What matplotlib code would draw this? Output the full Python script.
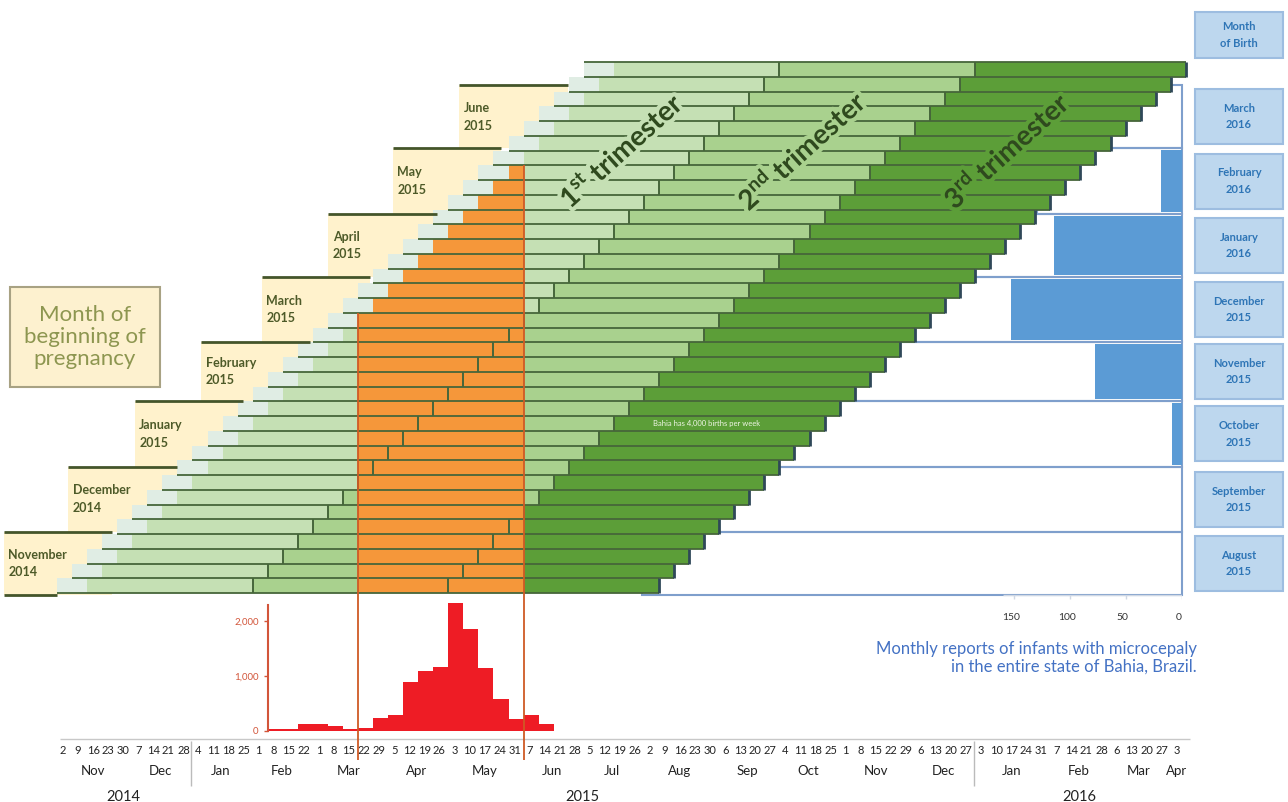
import numpy as np
import pandas as pd
import matplotlib
matplotlib.use('Agg')
import matplotlib.pyplot as plt
import matplotlib.patheffects as pe
from matplotlib.patches import Rectangle

plt.rcParams['font.family'] = ['Lato', 'DejaVu Sans']
plt.rcParams['mathtext.fontset'] = 'custom'
plt.rcParams['mathtext.rm'] = 'Lato'
plt.rcParams['mathtext.bf'] = 'Lato:bold'

# weekly timeline (Sundays)
week_dates = pd.date_range('2014-11-02', '2016-04-03', freq='7D')
origin = week_dates[0]

def wk(d):
    return (pd.Timestamp(d) - origin).days / 7.0

# one pregnancy cohort per week, weeks since LMP
cohort_start = np.arange(36)
preconception_wk = 2
trimester2_wk = 13
trimester3_wk = 26
term_wk = 40

# Zika epidemic window
epi_start = wk('2015-03-22')
epi_end = wk('2015-06-07')

# weekly reported cases (red histogram)
case_weeks = pd.date_range('2015-02-08', periods=19, freq='7D')
case_counts = [40, 40, 120, 130, 100, 40, 50, 240, 290, 890,
               1090, 1160, 2320, 1860, 1150, 590, 210, 285, 120]

# months of beginning of pregnancy
start_month_edges = pd.date_range('2014-11-01', '2015-07-01', freq='MS')
start_month_labels = ['November\n2014', 'December\n2014', 'January\n2015', 'February\n2015',
                      'March\n2015', 'April\n2015', 'May\n2015', 'June\n2015']

# monthly microcephaly reports by month of birth
birth_months = pd.date_range('2015-08-01', '2016-03-01', freq='MS')
birth_month_labels = ['August\n2015', 'September\n2015', 'October\n2015', 'November\n2015',
                      'December\n2015', 'January\n2016', 'February\n2016', 'March\n2016']
micro_counts = [0, 0, 9, 78, 153, 114, 19, 0]

# colours
c_pre = '#e0ede4'
c_t1 = '#c5e0b4'
c_t2 = '#a9d18e'
c_t3 = '#5c9e38'
c_orange = '#f5973a'
c_line = '#46663a'
c_cream = '#fff2cc'
c_blue = '#5b9bd5'

W, H = 1288, 802
fig = plt.figure(figsize=(W / 100, H / 100), dpi=100)
px_w, px_h = 15.05, 14.75
x0_px, y0_px = 57, 593
xlim = (-x0_px / px_w, (W - x0_px) / px_w)
ylim = ((y0_px - H) / px_h, y0_px / px_h)

ax = fig.add_axes([0, 0, 1, 1])
ax.set_xlim(*xlim)
ax.set_ylim(*ylim)
ax.axis('off')
ax.set_zorder(2)

# histogram axes
ax_h = fig.add_axes([0, (H - 731) / H, 1, 131 / H])
ax_h.set_xlim(*xlim)
ax_h.set_ylim(0, 131 / 55 * 1000)
ax_h.patch.set_visible(False)
ax_h.set_zorder(1)
ax_h.bar([wk(d) + 0.5 for d in case_weeks], case_counts, width=1, color='#ee1c25', lw=0)
for s in ['top', 'right', 'bottom']:
    ax_h.spines[s].set_visible(False)
ax_h.spines['left'].set_position(('data', wk(case_weeks[0])))
ax_h.spines['left'].set_color('#d2553a')
ax_h.spines['left'].set_linewidth(1.5)
ax_h.spines['left'].set_bounds(0, 2300)
ax_h.set_yticks([0, 1000, 2000])
ax_h.set_yticklabels(['0', '1,000', '2,000'])
ax_h.tick_params(axis='y', colors='#d2553a', labelsize=7, length=3, width=1)
ax_h.set_xticks([])

# cream month-of-beginning boxes
for k, lab in enumerate(start_month_labels):
    lo, hi = wk(start_month_edges[k]), wk(start_month_edges[k + 1])
    left = lo - 3.4
    ax.add_patch(Rectangle((left, lo), 7.2, hi - lo, facecolor=c_cream, lw=0, zorder=1))
    ax.hlines(hi, left, left + 7.2, color='#44552a', lw=2, zorder=3)
    ax.text(left + 0.3, (lo + hi) / 2, lab, fontsize=9, fontweight='bold', color='#4d5a28',
            va='center', ha='left', linespacing=1.55, zorder=3)
first = wk(start_month_edges[0])
ax.hlines(first, first - 3.4, cohort_start[0], color='#44552a', lw=2, zorder=3)

# birth month panel outlines
panel_right = (1182 - x0_px) / px_w
for k in range(len(birth_months)):
    lo, hi = wk(start_month_edges[k]), wk(start_month_edges[k + 1])
    left = wk(birth_months[k])
    ax.add_patch(Rectangle((left, lo), panel_right - left, hi - lo, facecolor='none',
                           edgecolor='#7f9fcc', lw=1.5, zorder=1))

# pregnancy bars
y = cohort_start + 0.5
ax.barh(y, preconception_wk, left=cohort_start, height=1, color=c_pre, lw=0, zorder=2)
ax.barh(y, trimester2_wk - preconception_wk, left=cohort_start + preconception_wk, height=1,
        color=c_t1, lw=0, zorder=2)
ax.barh(y, trimester3_wk - trimester2_wk, left=cohort_start + trimester2_wk, height=1,
        color=c_t2, lw=0, zorder=2)
ax.barh(y, term_wk - trimester3_wk, left=cohort_start + trimester3_wk, height=1,
        color=c_t3, lw=0, zorder=2)

# exposure to epidemic after conception
for s in cohort_start:
    a = max(s + preconception_wk, epi_start)
    b = min(s + term_wk, epi_end)
    if b > a:
        ax.barh(s + 0.5, b - a, left=a, height=1, color=c_orange, lw=0, zorder=2.5)

ax.hlines(cohort_start, cohort_start, cohort_start + term_wk, color=c_line, lw=1.3, zorder=4)
ax.hlines(cohort_start[-1] + 1, cohort_start[-1], cohort_start[-1] + term_wk, color=c_line, lw=1.3, zorder=4)
ax.vlines(cohort_start + trimester2_wk, cohort_start, cohort_start + 1, color=c_line, lw=1.4, zorder=4)
ax.vlines(cohort_start + trimester3_wk, cohort_start, cohort_start + 1, color=c_line, lw=1.4, zorder=4)
ax.vlines(cohort_start + term_wk, cohort_start, cohort_start + 1, color='#2f4858', lw=2, zorder=4)

# epidemic window lines
bottom_r = (y0_px - 760) / px_h
top_left = cohort_start[cohort_start + preconception_wk <= epi_start].max() + 1
top_right = cohort_start[cohort_start + preconception_wk < epi_end].max() + 1
ax.vlines(epi_start, bottom_r, top_left, color='#cf5a25', lw=1.3, zorder=5)
ax.vlines(epi_end, bottom_r, top_right, color='#cf5a25', lw=1.3, zorder=5)

# trimester labels
tri = [(37.5, r'1$^{\bf st}$ trimester', c_t1),
       (49.5, r'2$^{\bf nd}$ trimester', c_t2),
       (63.1, r'3$^{\bf rd}$ trimester', c_t3)]
for xx, lab, bg in tri:
    ax.text(xx, 30.0, lab, rotation=42, fontsize=20, fontweight='bold', color='#2f4a1e',
            ha='center', va='center', zorder=6,
            path_effects=[pe.withStroke(linewidth=6, foreground=bg)])

ax.text(39.6, 11.5, 'Bahia has 4,000 births per week', fontsize=5.5, color='#eef5e4',
        va='center', ha='left', zorder=6)

# legend box
ax.add_patch(Rectangle((-3.12, 13.97), 9.96, 6.78, facecolor='#fdf1cf', edgecolor='#a8a283',
                       lw=1.5, zorder=3))
ax.text(1.86, 17.36, 'Month of\nbeginning of\npregnancy', fontsize=16, color='#8d9650',
        ha='center', va='center', linespacing=1.12, zorder=4)

# bottom time axis
axis_r = (y0_px - 739) / px_h
ax.hlines(axis_r, 0.2, 75.3, color='#c8c8c8', lw=1)
tick_x = np.arange(len(week_dates)) + 0.4
for xx, d in zip(tick_x, week_dates):
    ax.text(xx, (y0_px - 750) / px_h, str(d.day), fontsize=8, ha='center', va='center', color='#222222')
months = pd.Series(tick_x, index=week_dates)
for (yr, mo), grp in months.groupby([week_dates.year, week_dates.month]):
    ax.text(grp.mean(), (y0_px - 771) / px_h, grp.index[0].strftime('%b'), fontsize=9.5,
            ha='center', va='center', color='#222222')
for yr, grp in months.groupby(week_dates.year):
    ax.text(grp.mean(), (y0_px - 797) / px_h, str(yr), fontsize=10.5, ha='center', va='center',
            color='#222222')
    if yr > 2014:
        ax.vlines(grp.iloc[0] - 0.5, (y0_px - 741) / px_h, (y0_px - 786) / px_h,
                  color='#bbbbbb', lw=1)

# blue bars: microcephaly by month of birth
right_frac = (panel_right - xlim[0]) / (xlim[1] - xlim[0])
ax_b = fig.add_axes([0, 0, right_frac, 1])
ax_b.set_xlim(right_frac * W / 1.12, 0)
ax_b.set_ylim(*ylim)
ax_b.axis('off')
ax_b.set_zorder(3)
lo = np.array([wk(d) for d in start_month_edges[:-1]])
hi = np.array([wk(d) for d in start_month_edges[1:]])
ax_b.barh((lo + hi) / 2, micro_counts, height=(hi - lo) - 0.25, color=c_blue, lw=0)
ax_b.hlines(-0.15, 160, 0, color='#d0d8e4', lw=1)
for v in [150, 100, 50, 0]:
    ax_b.vlines(v, -0.15, -0.4, color='#d0d8e4', lw=1)
    ax_b.text(v + 3, (y0_px - 617) / px_h, str(v), fontsize=7.5, ha='center', va='center',
              color='#333333')

# month of birth label boxes
bx = (1195 - x0_px) / px_w
bw = 88 / px_w
for k, lab in enumerate(birth_month_labels):
    cy = (lo[k] + hi[k]) / 2
    bh = 55 / px_h
    ax.add_patch(Rectangle((bx, cy - bh / 2), bw, bh, facecolor='#bdd7ee', edgecolor='#9dbde0',
                           lw=1.5, zorder=3))
    ax.text(bx + bw / 2, cy, lab, fontsize=8, fontweight='bold', color='#2e75b6',
            ha='center', va='center', linespacing=1.6, zorder=4)
cy = (y0_px - 35) / px_h
bh = 45 / px_h
ax.add_patch(Rectangle((bx, cy - bh / 2), bw, bh, facecolor='#bdd7ee', edgecolor='#9dbde0',
                       lw=1.5, zorder=3))
ax.text(bx + bw / 2, cy, 'Month\nof Birth', fontsize=8, fontweight='bold', color='#2e75b6',
        ha='center', va='center', linespacing=1.6, zorder=4)

ax.text((1197 - x0_px) / px_w, (y0_px - 658) / px_h,
        'Monthly reports of infants with microcepaly\nin the entire state of Bahia, Brazil.',
        fontsize=12, color='#4472c4', ha='right', va='center', linespacing=1.15)

fig.savefig('out.png', dpi=100)
